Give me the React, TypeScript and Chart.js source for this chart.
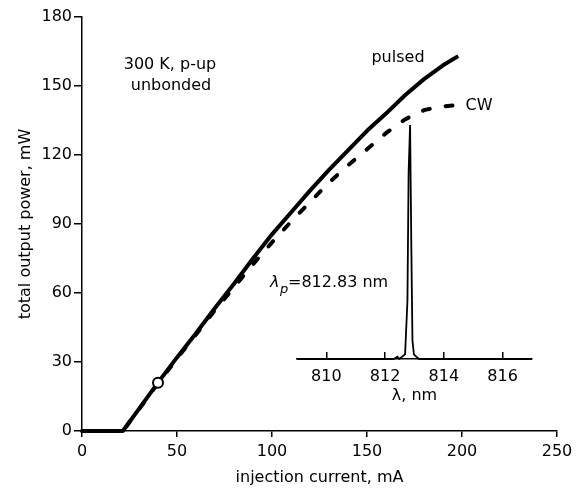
import { useEffect, useRef } from "react";
import { Chart, registerables } from "chart.js";

Chart.register(...registerables);

// Main L-I curves (injection current in mA, output power in mW)
const currentPulsed = [0, 21.5, 30, 40, 50, 60, 70, 80, 90, 100, 110, 120, 130, 140, 150, 160, 170, 180, 190, 198];
const powerPulsed = [0, 0, 9.6, 21, 32, 42.5, 53.5, 64, 75, 85.5, 95, 104.5, 113.5, 122, 130.5, 138, 146, 153, 159, 163];
const currentCW = [0, 21.5, 30, 40, 50, 60, 70, 80, 90, 100, 110, 120, 130, 140, 150, 160, 170, 180, 188, 195];
const powerCW = [0, 0, 9.4, 20.8, 31.5, 42, 52.5, 62.5, 72.5, 82, 91, 99.5, 108, 115.5, 122.5, 129.5, 135.5, 139.5, 141, 141.5];
const markerCurrent = [40];
const markerPower = [21];

const xTickValues = [0, 50, 100, 150, 200, 250];
const yTickValues = [0, 30, 60, 90, 120, 150, 180];

// Inset spectrum (wavelength in nm, normalized intensity)
const wavelength = [809, 812.3, 812.42, 812.48, 812.58, 812.68, 812.76, 812.8, 812.85, 812.89, 812.93, 812.98, 813.06, 813.15, 817];
const intensity = [0, 0, 0.01, 0, 0.01, 0.02, 0.25, 0.8, 1.0, 0.5, 0.08, 0.02, 0.01, 0, 0];
const insetTickValues = [810, 812, 814, 816];

const FAMILY = "'DejaVu Sans', sans-serif";
const FS = 16;

const pts = (xs: number[], ys: number[]) => xs.map((x, i) => ({ x, y: ys[i] }));

const textPlugin = {
  id: "annotations",
  afterDraw(chart: any) {
    const ctx = chart.ctx as CanvasRenderingContext2D;
    ctx.save();
    ctx.fillStyle = "#000";
    ctx.textBaseline = "middle";
    ctx.textAlign = "center";
    ctx.font = `${FS}px ${FAMILY}`;
    ctx.fillText("300 K, p-up", 170, 65);
    ctx.fillText("unbonded", 171, 86);
    ctx.fillText("pulsed", 398, 58);
    ctx.fillText("CW", 479, 106);
    ctx.textAlign = "left";
    ctx.font = `italic ${FS}px ${FAMILY}`;
    ctx.fillText("λ", 270, 283);
    ctx.font = `italic 13px ${FAMILY}`;
    ctx.fillText("p", 280, 290);
    ctx.font = `${FS}px ${FAMILY}`;
    ctx.fillText("=812.83 nm", 288, 283);
    ctx.restore();
  },
};

export default function App() {
  const mainRef = useRef<HTMLCanvasElement>(null);
  const insetRef = useRef<HTMLCanvasElement>(null);

  useEffect(() => {
    const font = { family: FAMILY, size: FS };
    const main = new Chart(mainRef.current!, {
      type: "line",
      data: {
        datasets: [
          {
            label: "marker",
            data: pts(markerCurrent, markerPower),
            showLine: false,
            pointRadius: 5,
            pointBorderWidth: 2,
            pointBackgroundColor: "#fff",
            pointBorderColor: "#000",
            order: -1,
          },
          {
            label: "pulsed",
            data: pts(currentPulsed, powerPulsed),
            borderColor: "#000",
            borderWidth: 4,
            borderJoinStyle: "round",
            pointRadius: 0,
            tension: 0,
            clip: false,
          },
          {
            label: "CW",
            data: pts(currentCW, powerCW),
            borderColor: "#000",
            borderWidth: 4,
            borderDash: [7, 16],
            borderCapStyle: "round",
            pointRadius: 0,
            tension: 0,
            clip: false,
          },
        ] as any,
      },
      options: {
        responsive: false,
        animation: false,
        events: [],
        layout: { padding: { left: 0, right: 21, top: 17, bottom: 0 } },
        plugins: { legend: { display: false }, tooltip: { enabled: false } },
        scales: {
          x: {
            type: "linear",
            min: 0,
            max: 250,
            afterBuildTicks: (s: any) => {
              s.ticks = xTickValues.map((v) => ({ value: v }));
            },
            afterFit: (s: any) => {
              s.height = 58;
            },
            grid: { drawOnChartArea: false, drawTicks: true, tickLength: 6, color: "#000", lineWidth: 1.5 },
            border: { color: "#000", width: 1.5 },
            ticks: { color: "#000", font, padding: 5, maxRotation: 0 },
            title: { display: true, text: "injection current, mA", color: "#000", font, padding: { top: 0, bottom: 1.5 } },
          },
          y: {
            type: "linear",
            min: 0,
            max: 180,
            afterBuildTicks: (s: any) => {
              s.ticks = yTickValues.map((v) => ({ value: v }));
            },
            afterFit: (s: any) => {
              s.width = 82;
            },
            grid: { drawOnChartArea: false, drawTicks: true, tickLength: 8, color: "#000", lineWidth: 1.5 },
            border: { color: "#000", width: 1.5 },
            ticks: { color: "#000", font, padding: 2 },
            title: { display: true, text: "total output power, mW", color: "#000", font, padding: { top: 16, bottom: 0 } },
          },
        },
      } as any,
      plugins: [textPlugin],
    });

    const inset = new Chart(insetRef.current!, {
      type: "line",
      data: {
        datasets: [
          {
            label: "spectrum",
            data: pts(wavelength, intensity),
            borderColor: "#000",
            borderWidth: 1.8,
            pointRadius: 0,
            tension: 0,
            clip: false,
          },
        ] as any,
      },
      options: {
        responsive: false,
        animation: false,
        events: [],
        layout: { padding: { left: 297, right: 46, top: 125, bottom: 80 } },
        plugins: { legend: { display: false }, tooltip: { enabled: false } },
        scales: {
          x: {
            type: "linear",
            min: 809,
            max: 817,
            afterBuildTicks: (s: any) => {
              s.ticks = insetTickValues.map((v) => ({ value: v }));
            },
            afterFit: (s: any) => {
              s.height = 50;
            },
            grid: { drawOnChartArea: false, drawTicks: true, tickLength: -7, color: "#000", lineWidth: 1.5 },
            border: { color: "#000", width: 1.5 },
            ticks: { color: "#000", font, padding: 15, maxRotation: 0 },
            title: { display: true, text: "λ, nm", color: "#000", font, padding: { top: 0, bottom: 3.3 } },
          },
          y: { type: "linear", min: 0, max: 1, display: false },
        },
      } as any,
    });

    return () => {
      main.destroy();
      inset.destroy();
    };
  }, []);

  return (
    <div style={{ position: "fixed", left: 0, top: 0, width: 578, height: 489, background: "#fff" }}>
      <canvas ref={mainRef} width={578} height={489} style={{ position: "absolute", left: 0, top: 0 }} />
      <canvas ref={insetRef} width={578} height={489} style={{ position: "absolute", left: 0, top: 0 }} />
    </div>
  );
}
